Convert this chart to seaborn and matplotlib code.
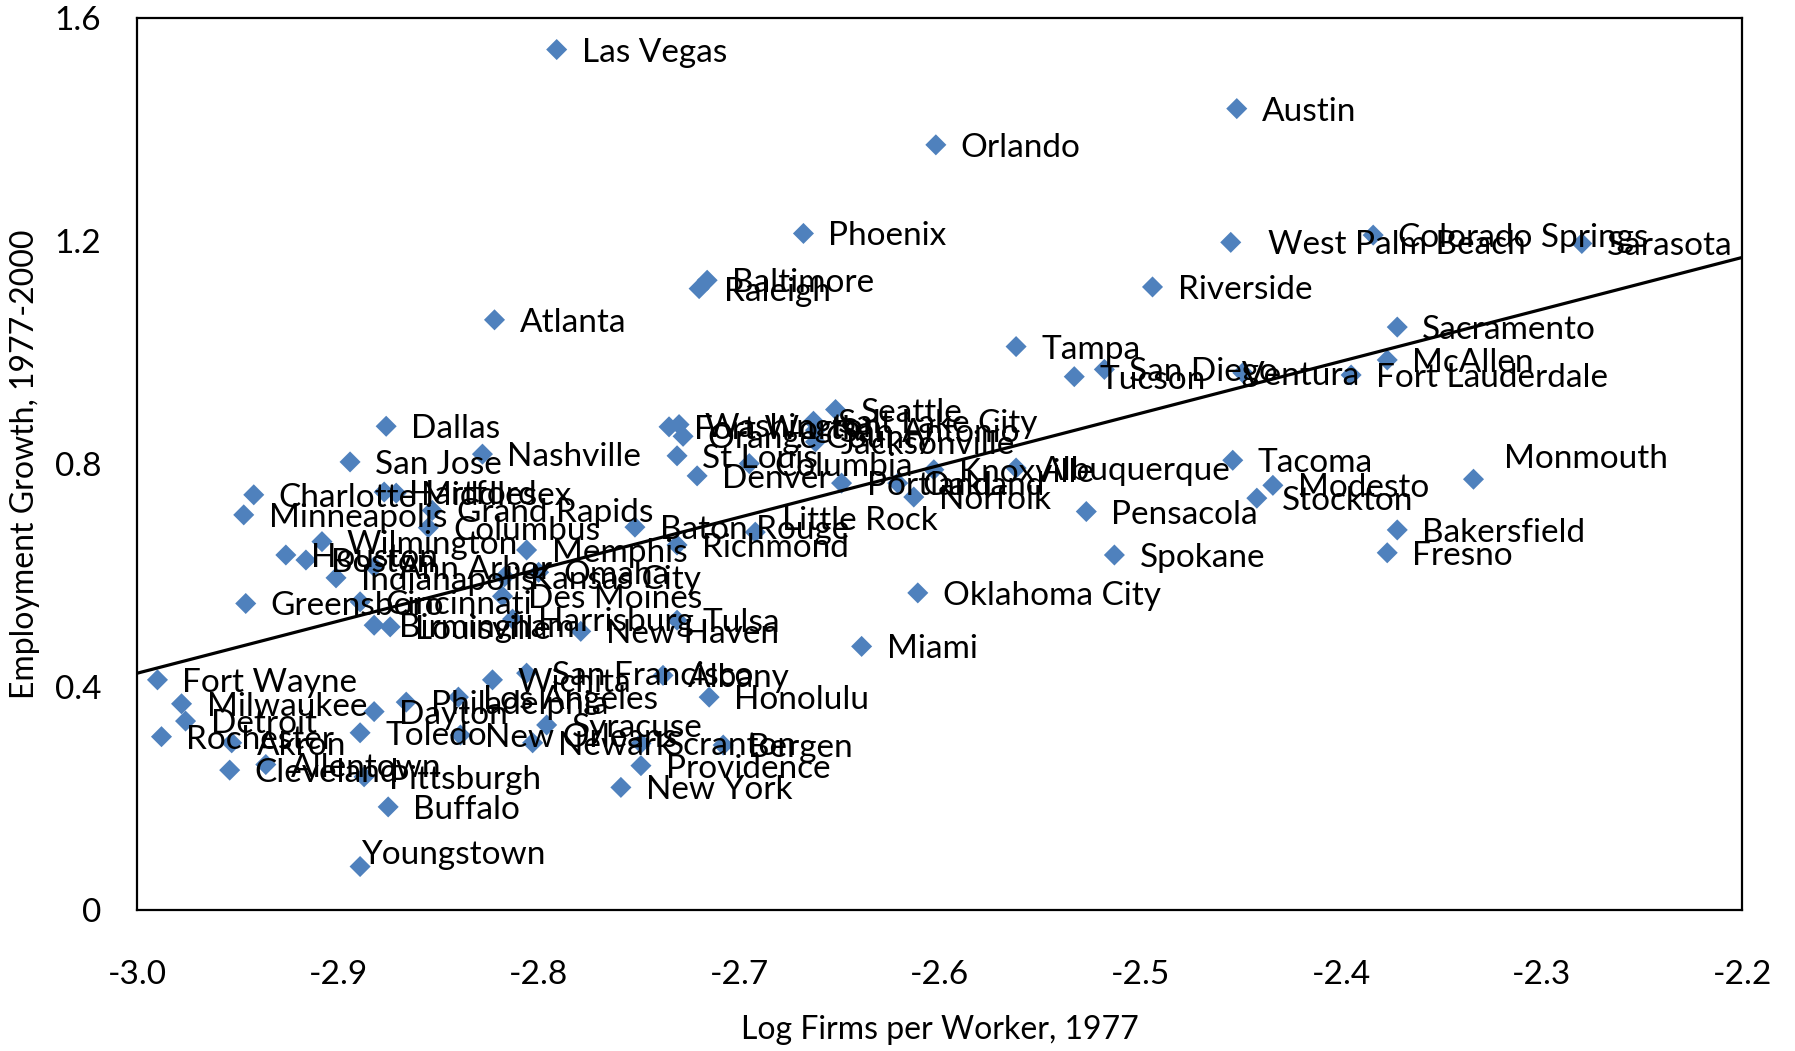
import matplotlib
matplotlib.use("Agg")
import matplotlib.pyplot as plt
import seaborn as sns
import pandas as pd

# ---------------- data ----------------
cities = ["Las Vegas", "Austin", "Orlando", "Phoenix", "West Palm Beach", "Colorado Springs",
          "Sarasota", "Baltimore", "Raleigh", "Riverside", "Atlanta", "Sacramento", "Tampa",
          "San Diego", "Tucson", "Ventura", "McAllen", "Fort Lauderdale", "Seattle",
          "Salt Lake City", "Fort Worth", "Washington", "Orange County", "San Antonio",
          "Jacksonville", "Dallas", "St Louis", "Nashville", "San Jose", "Columbia", "Tacoma",
          "Denver", "Albuquerque", "Knoxville", "Portland", "Oakland", "Norfolk", "Monmouth",
          "Modesto", "Stockton", "Charlotte", "Hartford", "Middlesex", "Minneapolis",
          "Grand Rapids", "Pensacola", "Baton Rouge", "Little Rock", "Columbus", "Bakersfield",
          "Richmond", "Wilmington", "Memphis", "Houston", "Boston", "Spokane", "Fresno",
          "Ann Arbor", "Omaha", "Kansas City", "Indianapolis", "Oklahoma City", "Des Moines",
          "Greensboro", "Cincinnati", "Tulsa", "Harrisburg", "Birmingham", "Louisville",
          "New Haven", "Miami", "Fort Wayne", "San Francisco", "Albany", "Wichita",
          "Philadelphia", "Los Angeles", "Honolulu", "Milwaukee", "Dayton", "Detroit",
          "Syracuse", "Toledo", "New Orleans", "Rochester", "Akron", "Newark", "Scranton",
          "Bergen", "Allentown", "Providence", "Cleveland", "Pittsburgh", "New York",
          "Buffalo", "Youngstown"]

log_firms = [-2.791, -2.452, -2.602, -2.668, -2.455, -2.384,
             -2.280, -2.716, -2.720, -2.494, -2.822, -2.372, -2.562,
             -2.518, -2.533, -2.449, -2.377, -2.395, -2.652,
             -2.663, -2.735, -2.730, -2.728, -2.662,
             -2.662, -2.876, -2.731, -2.828, -2.894, -2.695, -2.454,
             -2.721, -2.562, -2.603, -2.649, -2.621, -2.613, -2.334,
             -2.434, -2.442, -2.942, -2.877, -2.871, -2.947,
             -2.853, -2.527, -2.752, -2.692, -2.855, -2.372,
             -2.731, -2.908, -2.806, -2.926, -2.916, -2.513, -2.377,
             -2.882, -2.800, -2.817, -2.901, -2.611, -2.818,
             -2.946, -2.889, -2.731, -2.813, -2.882, -2.874,
             -2.779, -2.639, -2.990, -2.806, -2.738, -2.823,
             -2.866, -2.840, -2.715, -2.978, -2.882, -2.976,
             -2.796, -2.889, -2.839, -2.988, -2.953, -2.803, -2.749,
             -2.708, -2.936, -2.749, -2.954, -2.887, -2.759,
             -2.875, -2.889]

emp_growth = [1.544, 1.438, 1.373, 1.214, 1.198, 1.211,
              1.196, 1.130, 1.115, 1.118, 1.059, 1.046, 1.011,
              0.970, 0.957, 0.964, 0.987, 0.960, 0.898,
              0.877, 0.867, 0.871, 0.850, 0.861,
              0.840, 0.868, 0.815, 0.818, 0.804, 0.801, 0.807,
              0.779, 0.793, 0.790, 0.766, 0.766, 0.741, 0.773,
              0.762, 0.739, 0.745, 0.750, 0.748, 0.709,
              0.717, 0.715, 0.687, 0.678, 0.686, 0.682,
              0.655, 0.661, 0.646, 0.637, 0.628, 0.637, 0.641,
              0.616, 0.606, 0.598, 0.596, 0.569, 0.563,
              0.550, 0.553, 0.520, 0.522, 0.511, 0.508,
              0.500, 0.473, 0.413, 0.425, 0.421, 0.413,
              0.373, 0.382, 0.382, 0.370, 0.356, 0.339,
              0.332, 0.318, 0.314, 0.311, 0.300, 0.300, 0.299,
              0.296, 0.261, 0.259, 0.251, 0.239, 0.220,
              0.185, 0.078]

trend_x = [-3.0, -2.2]
trend_y = [0.425, 1.171]

x_ticks = [-3.0, -2.9, -2.8, -2.7, -2.6, -2.5, -2.4, -2.3, -2.2]
x_tick_labels = ["-3.0", "-2.9", "-2.8", "-2.7", "-2.6", "-2.5", "-2.4", "-2.3", "-2.2"]
y_ticks = [0, 0.4, 0.8, 1.2, 1.6]
y_tick_labels = ["0", "0.4", "0.8", "1.2", "1.6"]

# label nudges (pixels) for a few manually placed labels
label_nudge = {"Youngstown": (-24, 15), "Monmouth": (6, 23), "West Palm Beach": (12, 0),
               "Ventura": (-26, 0), "Little Rock": (2, 14)}

# ---------------- plot ----------------
sns.set_theme(style="white")
plt.rcParams["font.family"] = ["Lato", "DejaVu Sans"]

df = pd.DataFrame({"city": cities, "x": log_firms, "y": emp_growth})
trend = pd.DataFrame({"x": trend_x, "y": trend_y})

fig = plt.figure(figsize=(17.95, 10.51), dpi=100)
ax = fig.add_axes([0.07655, 0.13416, 0.8941, 0.8484])

sns.scatterplot(data=df, x="x", y="y", ax=ax, marker="D", s=115,
                color="#4F81BD", edgecolor="none", zorder=2, legend=False)
sns.lineplot(data=trend, x="x", y="y", ax=ax, color="black", linewidth=2.3,
             zorder=3, legend=False)

for name, xv, yv in zip(cities, log_firms, emp_growth):
    dx, dy = label_nudge.get(name, (0, 0))
    ax.annotate(name, (xv, yv), xytext=(25 + dx, dy - 3), textcoords="offset pixels",
                fontsize=24, ha="left", va="center", color="black", zorder=4)

ax.set_xlim(-3.0, -2.2)
ax.set_ylim(0, 1.6)
ax.set_xticks(x_ticks)
ax.set_xticklabels(x_tick_labels)
ax.set_yticks(y_ticks)
ax.set_yticklabels(y_tick_labels)
ax.tick_params(axis="x", length=0, pad=36, labelsize=24, colors="black")
ax.tick_params(axis="y", length=0, pad=26, labelsize=24, colors="black")

ax.set_xlabel("Log Firms per Worker, 1977", fontsize=23, color="black")
ax.set_ylabel("Employment Growth, 1977-2000", fontsize=23, color="black")
ax.xaxis.label.set_va("center")
ax.xaxis.set_label_coords(0.5, -0.1345)
ax.yaxis.label.set_va("center")
ax.yaxis.set_label_coords(-0.0698, 0.5)

for sp in ax.spines.values():
    sp.set_visible(True)
    sp.set_color("black")
    sp.set_linewidth(1.6)
ax.grid(False)

fig.savefig("out.png", dpi=100)
